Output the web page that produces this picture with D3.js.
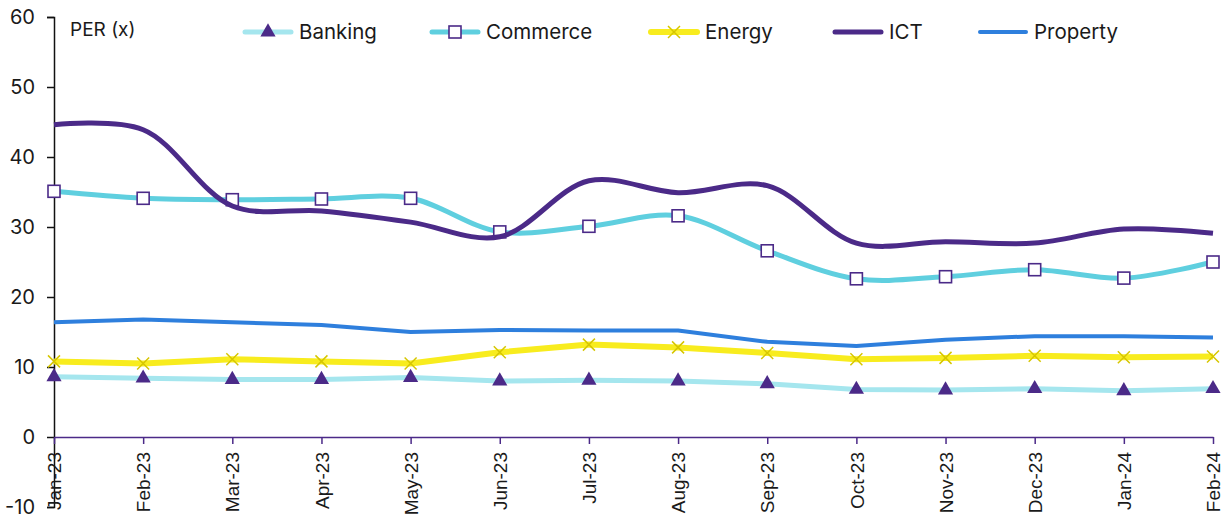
<!DOCTYPE html>
<html>
<head>
<meta charset="utf-8">
<script src="https://cdn.jsdelivr.net/npm/d3@7"></script>
<style>
  body { margin: 0; background: #fff; }
  svg text { font-family: Inter, "Noto Sans", sans-serif; fill: #1a1a1a; }
</style>
</head>
<body>
<div id="my_dataviz"></div>
<script>
// chart data
const months = ["Jan-23","Feb-23","Mar-23","Apr-23","May-23","Jun-23","Jul-23","Aug-23","Sep-23","Oct-23","Nov-23","Dec-23","Jan-24","Feb-24"];
const banking  = [8.6, 8.4, 8.2, 8.2, 8.5, 8.0, 8.1, 8.0, 7.6, 6.8, 6.7, 6.9, 6.6, 6.9];
const commerce = [35.1, 34.1, 33.9, 34.0, 34.1, 29.3, 30.1, 31.6, 26.6, 22.6, 22.9, 23.9, 22.7, 25.0];
const energy   = [10.8, 10.5, 11.1, 10.8, 10.5, 12.1, 13.2, 12.8, 12.0, 11.1, 11.3, 11.6, 11.4, 11.5];
const ict      = [44.6, 43.9, 33.0, 32.3, 30.7, 28.6, 36.6, 34.9, 35.9, 27.7, 27.9, 27.7, 29.7, 29.1];
const property = [16.4, 16.8, 16.4, 16.0, 15.0, 15.3, 15.2, 15.2, 13.6, 13.0, 13.9, 14.4, 14.4, 14.2];
const yTicks = [-10, 0, 10, 20, 30, 40, 50, 60];

const W = 1227, H = 520;
const margin = {top: 17, right: 14, bottom: 13, left: 54},
    width = W - margin.left - margin.right,
    height = H - margin.top - margin.bottom;

const purple = "#4b2a88";

const svg = d3.select("#my_dataviz")
    .append("svg")
    .attr("width", W)
    .attr("height", H)
    .append("g")
    .attr("transform", `translate(${margin.left},${margin.top})`);

const x = d3.scalePoint().domain(months).range([0, width]);
const y = d3.scaleLinear().domain([-10, 60]).range([height, 0]);

// y axis
const yAxis = svg.append("g")
    .call(d3.axisLeft(y).tickValues(yTicks).tickFormat(d => String(d)).tickSize(7).tickPadding(12))
yAxis.select(".domain").attr("stroke", "#111").attr("stroke-width", 1.5)
yAxis.selectAll(".tick line").attr("stroke", "#111").attr("stroke-width", 1.5)
yAxis.selectAll("text").style("font-size", "20px").attr("fill", "#1a1a1a")

// x axis sits on zero
const xAxis = svg.append("g")
    .attr("transform", `translate(0,${y(0)})`)
    .call(d3.axisBottom(x).tickSize(7).tickSizeOuter(0))
xAxis.select(".domain").attr("stroke", purple).attr("stroke-width", 1.5)
xAxis.selectAll(".tick line").attr("stroke", purple).attr("stroke-width", 1.5)
xAxis.selectAll("text")
    .style("font-size", "19px")
    .style("font-family", "'Liberation Sans', Arial, sans-serif")
    .attr("fill", "#1a1a1a")
    .style("text-anchor", "end")
    .attr("transform", "rotate(-90)")
    .attr("x", -15).attr("y", 0).attr("dx", 0).attr("dy", "0.35em");

svg.append("text")
    .attr("x", 16).attr("y", 19)
    .style("font-size", "19px").attr("fill", "#333")
    .text("PER (x)");

const series = [
  {name: "Banking", values: banking, color: "#a5e6ee", sw: 5, smooth: false, marker: "tri"},
  {name: "Commerce", values: commerce, color: "#5fcfdf", sw: 5, smooth: true, marker: "sq"},
  {name: "Energy", values: energy, color: "#f8ec1e", sw: 6, smooth: false, marker: "x"},
  {name: "ICT", values: ict, color: purple, sw: 5, smooth: true, marker: null},
  {name: "Property", values: property, color: "#2e7fdd", sw: 4, smooth: false, marker: null}
];

const drawOrder = ["Property", "Banking", "Energy", "Commerce", "ICT"];

function drawMarker(g, type, cx, cy) {
  if (type === "tri") {
    g.append("path")
      .attr("d", d3.symbol(d3.symbolTriangle, 100)())
      .attr("transform", `translate(${cx},${cy})`)
      .attr("fill", purple);
  } else if (type === "sq") {
    g.append("rect")
      .attr("x", cx - 6).attr("y", cy - 6)
      .attr("width", 12).attr("height", 12)
      .attr("fill", "#fff").attr("stroke", purple).attr("stroke-width", 1.6);
  } else if (type === "x") {
    g.append("path")
      .attr("d", `M${cx-6},${cy-6}L${cx+6},${cy+6}M${cx-6},${cy+6}L${cx+6},${cy-6}`)
      .attr("stroke", "#d6c600").attr("stroke-width", 1.5).attr("fill", "none");
  }
}

drawOrder.forEach(function (n) {
  const s = series.find(d => d.name === n);
  const line = d3.line()
      .x((d, i) => x(months[i]))
      .y(d => y(d))
      .curve(s.smooth ? d3.curveCatmullRom.alpha(0.5) : d3.curveLinear);
  svg.append("path")
      .datum(s.values)
      .attr("d", line)
      .attr("fill", "none")
      .attr("stroke", s.color)
      .attr("stroke-width", s.sw)
      .attr("stroke-linejoin", "round");
  if (s.marker) {
    const mg = svg.append("g");
    s.values.forEach((v, i) => drawMarker(mg, s.marker, x(months[i]), y(v)));
  }
});

// legend
const legendX = [245, 432, 651, 835, 980];
const lg = svg.append("g").attr("transform", `translate(${-margin.left},${-margin.top})`);
series.forEach(function (s, i) {
  const lx = legendX[i], ly = 32;
  lg.append("line")
    .attr("x1", lx).attr("x2", lx + 46).attr("y1", ly).attr("y2", ly)
    .attr("stroke", s.color).attr("stroke-width", s.sw).attr("stroke-linecap", "round");
  if (s.marker) drawMarker(lg, s.marker, lx + 23, ly);
  lg.append("text")
    .attr("x", lx + 54).attr("y", ly).attr("dy", "0.35em")
    .style("font-size", "20.5px")
    .text(s.name);
});
</script>
</body>
</html>
